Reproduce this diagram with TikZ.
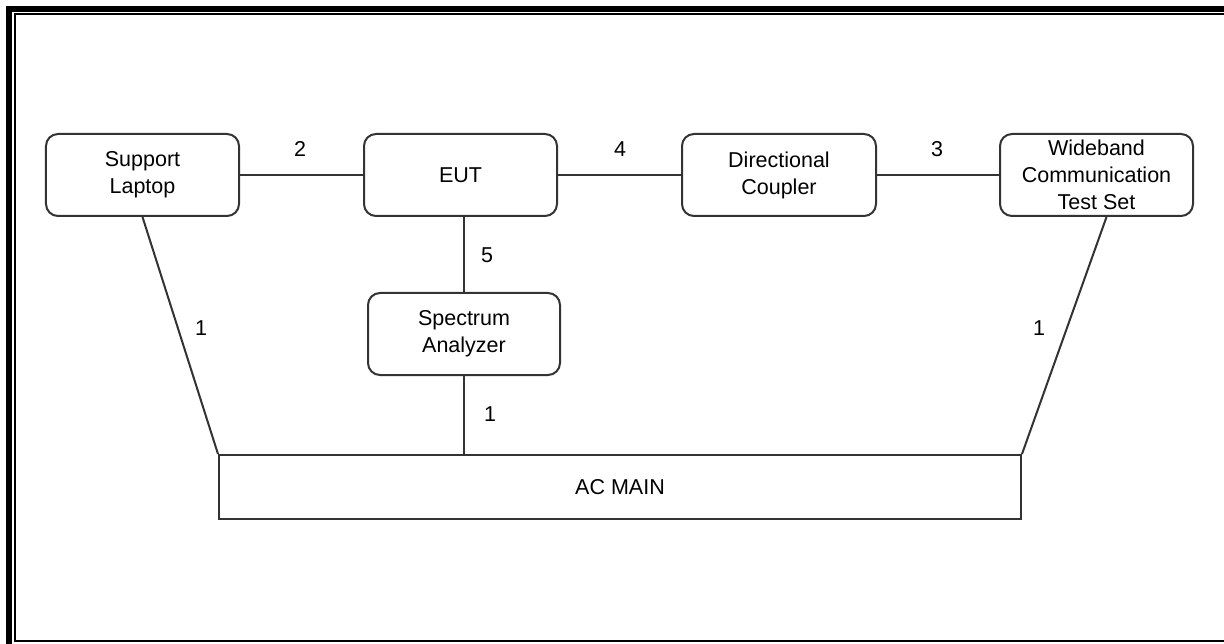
\documentclass[tikz,border=0pt]{standalone}
\usepackage{fontspec}
\setmainfont{Liberation Sans}
\usetikzlibrary{calc}
\begin{document}
\begin{tikzpicture}[x=1bp,y=-1bp,
  box/.style={draw=black!80, line width=2bp, rounded corners=12bp, inner sep=0pt, align=center,
    font=\fontsize{21.5bp}{27bp}\selectfont},
  plain/.style={draw=black!80, line width=2bp, inner sep=0pt, align=center,
    font=\fontsize{21.5bp}{27bp}\selectfont},
  wire/.style={draw=black!80, line width=2bp},
  lbl/.style={inner sep=0pt, font=\fontsize{21.5bp}{27bp}\selectfont}]
\useasboundingbox (0,0) rectangle (1224,644);
\fill[white] (0,0) rectangle (1224,644);
% frame
\draw[line width=6bp] (9,9) rectangle (1240,647);
\draw[line width=2bp] (15,14) rectangle (1232,641);
% nodes
\node[box, minimum width=193bp, minimum height=82bp] (lap) at (142.5,175) {Support\\Laptop};
\node[box, minimum width=193bp, minimum height=82bp] (eut) at (460.5,175) {EUT};
\node[box, minimum width=194bp, minimum height=82bp] (dc) at (779,175) {Directional\\Coupler};
\node[box, minimum width=193bp, minimum height=82bp] (wb) at (1096.5,175) {Wideband\\Communication\\Test Set};
\node[box, minimum width=192bp, minimum height=82bp] (sa) at (464,334) {Spectrum\\Analyzer};
\node[plain, minimum width=802bp, minimum height=64bp] (ac) at (620,487) {AC MAIN};
% connector ends
\coordinate (wbfoot) at ($(wb.south)+(10,0)$);
\coordinate (eutfoot) at (eut.south -| sa.north);
\coordinate (actop) at (ac.north -| sa.south);
% connectors
\draw[wire] (lap.east) -- (eut.west);
\draw[wire] (eut.east) -- (dc.west);
\draw[wire] (dc.east) -- (wb.west);
\draw[wire] (eutfoot) -- (sa.north);
\draw[wire] (sa.south) -- (actop);
\draw[wire] (lap.south) -- (ac.north west);
\draw[wire] (wbfoot) -- (ac.north east);
% labels
\node[lbl] (l2) at (300,149) {2};
\node[lbl] (l4) at (620,149) {4};
\node[lbl] (l3) at (937,149) {3};
\node[lbl] (l5) at (487,255) {5};
\node[lbl] (l1a) at (201,328) {1};
\node[lbl] (l1b) at (490,414) {1};
\node[lbl] (l1c) at (1039,328) {1};
\end{tikzpicture}
\end{document}
